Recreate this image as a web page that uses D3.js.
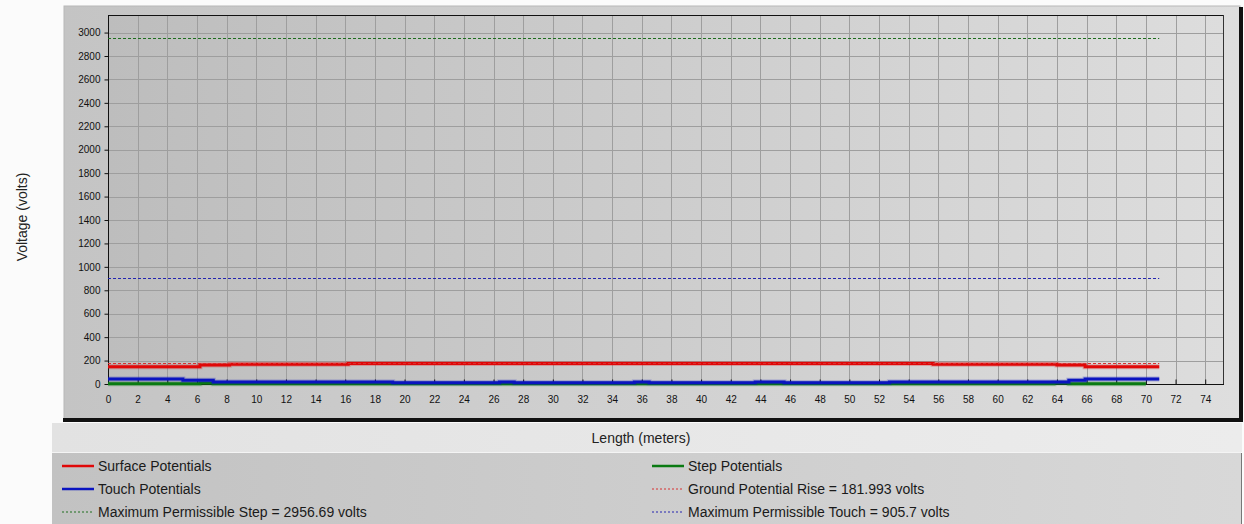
<!DOCTYPE html>
<html>
<head>
<meta charset="utf-8">
<script src="https://cdn.jsdelivr.net/npm/d3@7"></script>
<style>
  html, body { margin: 0; padding: 0; background: #fbfbfb; }
  svg { display: block; font-family: "Liberation Sans", Arial, sans-serif; }
</style>
</head>
<body>
<svg id="chart" width="1244" height="524"></svg>
<script>
// ---------- data ----------
const xTickValues = d3.range(0, 75, 2);
const yTickValues = d3.range(0, 3001, 200);

const surfaceX = [0, 6.2, 8.2, 16.2, 55.65, 64.0, 65.9, 70.9];
const surfaceV = [148, 162, 168, 176, 168, 162, 148, 148];

const touchX = [0, 5.05, 7.1, 19.2, 26.4, 27.4, 35.5, 36.5, 43.65, 45.6, 52.7, 64.8, 65.9, 70.9];
const touchV = [43, 32, 18, 10, 18, 10, 18, 10, 18, 10, 18, 32, 43, 43];

const stepX = [0, 6.2, 7.1, 63.8, 64.8, 70.0];
const stepV = [3, 9, 2, 9, 3, 3];

const limitNames = ["Ground Potential Rise", "Maximum Permissible Step", "Maximum Permissible Touch"];
const limitValues = [181.993, 2956.69, 905.7];
const limitEnd = 70.9;

const legendLabels = [
  "Surface Potentials", "Step Potentials",
  "Touch Potentials", "Ground Potential Rise = 181.993 volts",
  "Maximum Permissible Step = 2956.69 volts", "Maximum Permissible Touch = 905.7 volts"
];

// ---------- layout ----------
const svg = d3.select("#chart");
const P = { left: 108, right: 1223, top: 15, bottom: 384 };
const x = d3.scaleLinear().domain([0, 75.2]).range([P.left, P.right]);
const y = d3.scaleLinear().domain([0, 3150]).range([P.bottom, P.top]);

const defs = svg.append("defs");
function hgrad(id, c0, c1) {
  const g = defs.append("linearGradient").attr("id", id).attr("x1", "0").attr("x2", "1").attr("y1", "0").attr("y2", "0");
  g.append("stop").attr("offset", "0").attr("stop-color", c0);
  g.append("stop").attr("offset", "1").attr("stop-color", c1);
}
hgrad("gPanel", "#c4c4c4", "#dedede");
hgrad("gPlot", "#bdbdbd", "#dddddd");
hgrad("gBand", "#e2e2e2", "#ececec");
hgrad("gLegend", "#c2c2c2", "#d8d8d8");

// outer chart panel
svg.append("rect").attr("x", 64).attr("y", 6).attr("width", 1176).attr("height", 413)
  .attr("fill", "url(#gPanel)").attr("stroke", "#b8b8b8").attr("stroke-width", 1);
svg.append("rect").attr("x", 1239).attr("y", 7).attr("width", 4).attr("height", 415).attr("fill", "#111");
svg.append("rect").attr("x", 63).attr("y", 418).attr("width", 1180).attr("height", 4).attr("fill", "#111");

// plot area
svg.append("rect").attr("x", P.left).attr("y", P.top).attr("width", P.right - P.left).attr("height", P.bottom - P.top)
  .attr("fill", "url(#gPlot)");

// grid
const grid = svg.append("g").attr("stroke", "#9e9e9e").attr("stroke-width", 1);
grid.selectAll("line.v").data(xTickValues.filter(d => d > 0)).join("line")
  .attr("x1", d => Math.round(x(d)) + 0.5).attr("x2", d => Math.round(x(d)) + 0.5)
  .attr("y1", P.top).attr("y2", P.bottom);
grid.selectAll("line.h").data(yTickValues.filter(d => d > 0)).join("line")
  .attr("x1", P.left).attr("x2", P.right)
  .attr("y1", d => Math.round(y(d)) + 0.5).attr("y2", d => Math.round(y(d)) + 0.5);

// frame
svg.append("line").attr("x1", P.left).attr("x2", P.right).attr("y1", P.top + 0.5).attr("y2", P.top + 0.5).attr("stroke", "#111");
svg.append("line").attr("x1", P.right + 0.5).attr("x2", P.right + 0.5).attr("y1", P.top).attr("y2", P.bottom).attr("stroke", "#333");
svg.append("line").attr("x1", P.left + 0.5).attr("x2", P.left + 0.5).attr("y1", P.top).attr("y2", P.bottom + 1).attr("stroke", "#111");

// axes
const fmt = d3.format("d");
const yAxis = svg.append("g").attr("transform", `translate(${P.left + 0.5},0)`)
  .call(d3.axisLeft(y).tickValues(yTickValues).tickFormat(fmt).tickSize(4).tickPadding(4).tickSizeOuter(0));
yAxis.select(".domain").remove();
yAxis.selectAll("line").attr("stroke", "#111");
yAxis.selectAll("text").attr("font-size", 10).attr("fill", "#111").attr("font-family", "Liberation Sans, Arial, sans-serif");

const xAxis = svg.append("g").attr("transform", `translate(0,${P.bottom + 0.5})`)
  .call(d3.axisBottom(x).tickValues(xTickValues).tickFormat(fmt).tickSize(-5).tickPadding(11).tickSizeOuter(0));
xAxis.select(".domain").remove();
xAxis.selectAll("line").attr("stroke", "#111");
xAxis.selectAll("text").attr("font-size", 10).attr("fill", "#111").attr("font-family", "Liberation Sans, Arial, sans-serif");
svg.append("line").attr("x1", P.left).attr("x2", P.right + 1).attr("y1", P.bottom + 0.5).attr("y2", P.bottom + 0.5).attr("stroke", "#111");

// series
function stepLine(xs, vs) {
  return d3.line().x(d => x(d[0])).y(d => y(d[1])).curve(d3.curveStepAfter)(xs.map((v, i) => [v, vs[i]]));
}
const series = [
  { xs: stepX, vs: stepV, color: "#0a7a12" },
  { xs: touchX, vs: touchV, color: "#0a14c0" },
  { xs: surfaceX, vs: surfaceV, color: "#e00808" }
];
series.forEach(s => {
  svg.append("path").attr("d", stepLine(s.xs, s.vs)).attr("fill", "none")
    .attr("stroke", s.color).attr("opacity", 0.25).attr("stroke-width", 5);
  svg.append("path").attr("d", stepLine(s.xs, s.vs)).attr("fill", "none")
    .attr("stroke", s.color).attr("stroke-width", 3);
});

// limit lines
const limitColors = ["#d83030", "#1e6e1e", "#2424b0"];
limitValues.forEach((v, i) => {
  svg.append("line").attr("x1", x(0)).attr("x2", x(limitEnd))
    .attr("y1", Math.round(y(v)) + 0.5).attr("y2", Math.round(y(v)) + 0.5)
    .attr("stroke", limitColors[i]).attr("stroke-width", 1).attr("stroke-dasharray", "3,2");
});

// y axis title
svg.append("text").attr("transform", "translate(27,217) rotate(-90)").attr("text-anchor", "middle")
  .attr("font-size", 14).attr("fill", "#222").text("Voltage (volts)");

// x-axis title band
svg.append("rect").attr("x", 52).attr("y", 423).attr("width", 1190).attr("height", 29).attr("fill", "url(#gBand)");
svg.append("text").attr("x", 641).attr("y", 443).attr("text-anchor", "middle")
  .attr("font-size", 14).attr("fill", "#222").text("Length (meters)");

// legend panel
svg.append("rect").attr("x", 52).attr("y", 453).attr("width", 1189).attr("height", 72).attr("fill", "url(#gLegend)");
svg.append("line").attr("x1", 1241.5).attr("x2", 1241.5).attr("y1", 453).attr("y2", 524).attr("stroke", "#777");
svg.append("line").attr("x1", 52).attr("x2", 1241).attr("y1", 452.5).attr("y2", 452.5).attr("stroke", "#f4f4f4");

const legendStyles = [
  { color: "#e00808", dash: null },
  { color: "#0a7a12", dash: null },
  { color: "#0a14c0", dash: null },
  { color: "#d83030", dash: "2,2" },
  { color: "#1e6e1e", dash: "2,2" },
  { color: "#2424b0", dash: "2,2" }
];
const colX = [62, 652];
const rowY = [466, 489, 512];
const lg = svg.append("g");
legendLabels.forEach((lab, i) => {
  const cx = colX[i % 2], cy = rowY[Math.floor(i / 2)];
  const st = legendStyles[i];
  const ln = lg.append("line").attr("x1", cx).attr("x2", cx + 32).attr("y1", cy).attr("y2", cy)
    .attr("stroke", st.color).attr("stroke-width", st.dash ? 1 : 2.5);
  if (st.dash) ln.attr("stroke-dasharray", st.dash);
  lg.append("text").attr("x", cx + 36).attr("y", cy + 5).attr("font-size", 14).attr("fill", "#1a1a1a").text(lab);
});
</script>
</body>
</html>
